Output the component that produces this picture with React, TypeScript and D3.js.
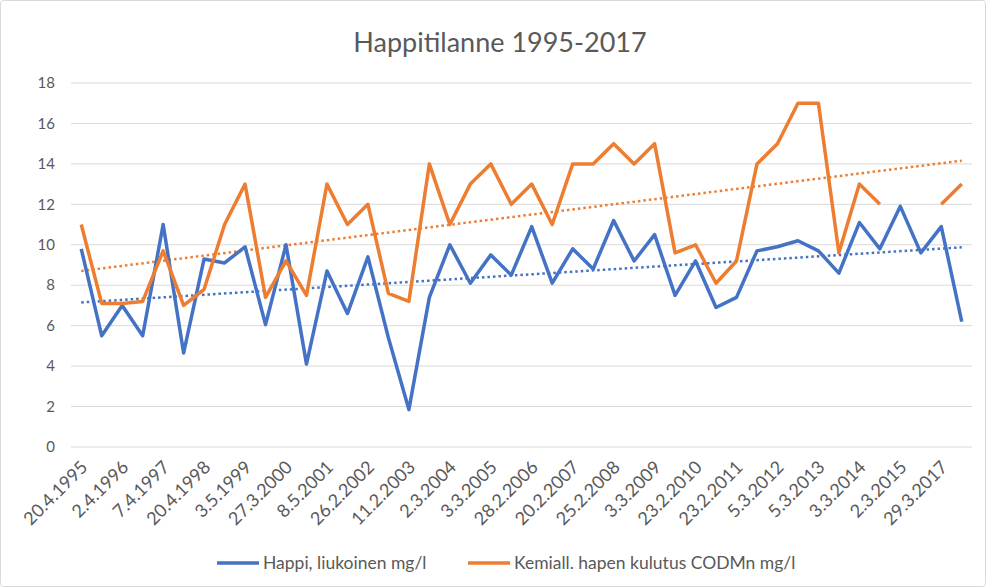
import React from "react";
import * as d3 from "d3";

// every second category carries a label on the axis
const dateLabels = [
  "20.4.1995", "2.4.1996", "7.4.1997", "20.4.1998", "3.5.1999", "27.3.2000",
  "8.5.2001", "26.2.2002", "11.2.2003", "2.3.2004", "3.3.2005", "28.2.2006",
  "20.2.2007", "25.2.2008", "3.3.2009", "23.2.2010", "23.2.2011", "5.3.2012",
  "5.3.2013", "3.3.2014", "2.3.2015", "29.3.2017",
];

const happi: (number | null)[] = [
  9.8, 5.5, 7.0, 5.5, 11.0, 4.65, 9.3, 9.1, 9.9, 6.05,
  10.0, 4.1, 8.7, 6.6, 9.4, 5.4, 1.85, 7.4, 10.0, 8.1,
  9.5, 8.5, 10.9, 8.1, 9.8, 8.8, 11.2, 9.2, 10.5, 7.5,
  9.2, 6.9, 7.4, 9.7, 9.9, 10.2, 9.7, 8.6, 11.1, 9.8,
  11.9, 9.6, 10.9, 6.2,
];

const codmn: (number | null)[] = [
  11.0, 7.1, 7.1, 7.2, 9.7, 7.0, 7.8, 11.0, 13.0, 7.4,
  9.2, 7.5, 13.0, 11.0, 12.0, 7.6, 7.2, 14.0, 11.0, 13.0,
  14.0, 12.0, 13.0, 11.0, 14.0, 14.0, 15.0, 14.0, 15.0, 9.6,
  10.0, 8.1, 9.2, 14.0, 15.0, 17.0, 17.0, 9.6, 13.0, 12.0,
  null, null, 12.0, 13.0,
];

const yTicks = [0, 2, 4, 6, 8, 10, 12, 14, 16, 18];

const seriesNames = ["Happi, liukoinen mg/l", "Kemiall. hapen kulutus CODMn mg/l"];
const colors = ["#4472C4", "#ED7D31"];

const W = 987;
const H = 588;
const font = "Lato, 'Open Sans', sans-serif";

// least squares fit over the points that exist, like an Excel linear trendline
function trend(values: (number | null)[]) {
  const pts = values
    .map((v, i) => [i, v] as [number, number | null])
    .filter((p) => p[1] != null) as [number, number][];
  const mx = d3.mean(pts, (p) => p[0])!;
  const my = d3.mean(pts, (p) => p[1])!;
  const num = d3.sum(pts, (p) => (p[0] - mx) * (p[1] - my));
  const den = d3.sum(pts, (p) => (p[0] - mx) ** 2);
  const b = num / den;
  const a = my - b * mx;
  return [0, values.length - 1].map((i) => [i, a + b * i] as [number, number]);
}

export default function App() {
  const left = 71;
  const right = 972;
  const top = 83;
  const bottom = 447;

  const idx = d3.range(happi.length);
  const x = d3.scaleBand<number>().domain(idx).range([left, right]);
  const cx = (i: number) => x(i)! + x.bandwidth() / 2;
  const y = d3.scaleLinear().domain([0, 18]).range([bottom, top]);

  const line = d3
    .line<number | null>()
    .defined((d) => d != null)
    .x((_, i) => cx(i))
    .y((d) => y(d as number));

  const trendLine = d3
    .line<[number, number]>()
    .x((d) => cx(d[0]))
    .y((d) => y(d[1]));

  const all = [happi, codmn];

  return (
    <svg
      width={W}
      height={H}
      style={{ position: "absolute", left: 0, top: 0, display: "block", background: "#fff" }}
      fontFamily={font}
    >
      <rect x={0.5} y={0.5} width={W - 2} height={H - 2} rx={3} fill="#fff" stroke="#d9d9d9" />

      <text x={500} y={52} textAnchor="middle" fontSize={27} fill="#595959">
        Happitilanne 1995-2017
      </text>

      {yTicks.map((t) => (
        <g key={t}>
          <line x1={left} x2={right} y1={y(t)} y2={y(t)} stroke="#d9d9d9" strokeWidth={1} />
          <text x={55} y={y(t)} dy="0.35em" textAnchor="end" fontSize={15} fill="#595959">
            {t}
          </text>
        </g>
      ))}

      {dateLabels.map((lab, k) => (
        <text
          key={lab}
          transform={`translate(${cx(k * 2) + 3},${bottom + 17}) rotate(-45)`}
          textAnchor="end"
          dy="0.35em"
          fontSize={18}
          fill="#595959"
        >
          {lab}
        </text>
      ))}

      {all.map((s, k) => (
        <path
          key={"t" + k}
          d={trendLine(trend(s))!}
          fill="none"
          stroke={colors[k]}
          strokeWidth={2.5}
          strokeDasharray="2.5 3"
        />
      ))}

      {all.map((s, k) => (
        <path
          key={"l" + k}
          d={line(s)!}
          fill="none"
          stroke={colors[k]}
          strokeWidth={3.5}
          strokeLinejoin="round"
        />
      ))}

      {[217, 468].map((lx, k) => (
        <g key={"lg" + k}>
          <line x1={lx} x2={lx + 42} y1={563} y2={563} stroke={colors[k]} strokeWidth={3.5} />
          <text x={lx + 46} y={563} dy="0.35em" fontSize={17.5} fill="#595959">
            {seriesNames[k]}
          </text>
        </g>
      ))}
    </svg>
  );
}
